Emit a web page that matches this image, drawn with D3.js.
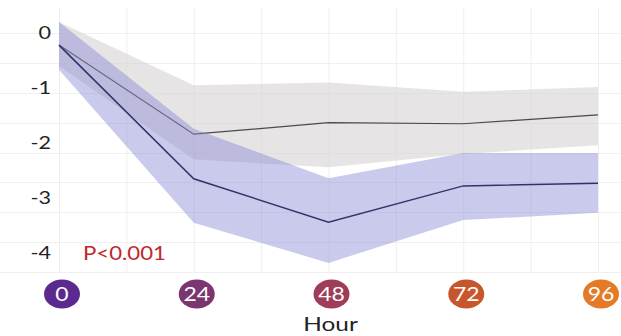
<!DOCTYPE html>
<html>
<head>
<meta charset="utf-8">
<script src="https://cdn.jsdelivr.net/npm/d3@7"></script>
<style>
  html, body { margin: 0; padding: 0; background: #fff; }
  svg { display: block; font-family: Lato, "Open Sans", sans-serif; }
</style>
</head>
<body>
<svg id="chart" width="621" height="336"></svg>
<script>
// Time points (hours) and tick labels
const hours = [0, 24, 48, 72, 96];
const yTicks = [0, -1, -2, -3, -4];
const hourColors = ["#5c2a8f", "#7b3670", "#9e3d57", "#c8562d", "#e47a27"];

// Control group: mean and band
const grayMean  = [-0.22, -1.84, -1.63, -1.65, -1.49];
const grayUpper = [0.2, -0.95, -0.9, -1.07, -0.98];
const grayLower = [-0.6, -2.3, -2.44, -2.2, -2.04];

// Treatment group: mean and band
const blueMean  = [-0.22, -2.65, -3.44, -2.78, -2.73];
const blueUpper = [0.2, -1.74, -2.64, -2.18, -2.18];
const blueLower = [-0.67, -3.45, -4.18, -3.4, -3.27];

const pLabel = "P<0.001";
const xTitle = "Hour";

const svg = d3.select("#chart");

const x = d3.scaleLinear().domain([0, 96]).range([59, 598]);
const y = d3.scaleLinear().domain([0, -4]).range([33, 253]);

// Horizontally widened text: anchor point (px, py), stretch factor sx
function wideText(sel, px, py, sx) {
  return sel.attr("x", 0).attr("y", 0)
    .attr("transform", `translate(${px},${py}) scale(${sx},1)`);
}

// Background grid (decorative, evenly spaced)
const grid = svg.append("g").attr("stroke", "#efefef").attr("stroke-width", 1);
d3.range(0, 97, 12).forEach(h => {
  grid.append("line")
    .attr("x1", x(h) + 0.5).attr("x2", x(h) + 0.5)
    .attr("y1", 8).attr("y2", 272);
});
d3.range(9).forEach(i => {
  const yy = Math.round(33 + i * (272 - 33) / 8) + 0.5;
  grid.append("line")
    .attr("x1", 0).attr("x2", 621)
    .attr("y1", yy).attr("y2", yy);
});

// Y axis labels
svg.append("g").selectAll("text")
  .data(yTicks)
  .join("text")
  .each(function (d) { wideText(d3.select(this), 51, y(d), 1.2); })
  .attr("text-anchor", "end")
  .attr("dy", "0.36em")
  .attr("font-size", 18)
  .attr("fill", "#222")
  .text(d => d < 0 ? "-" + Math.abs(d) : d);

// Bands and lines
const area = (lo, hi) => d3.area()
  .x((d, i) => x(hours[i]))
  .y0((d, i) => y(lo[i]))
  .y1((d, i) => y(hi[i]));
const line = d3.line().x((d, i) => x(hours[i])).y(d => y(d));

svg.append("path")
  .datum(hours)
  .attr("d", area(grayLower, grayUpper))
  .attr("fill", "#d6d2d2")
  .attr("fill-opacity", 0.6);

svg.append("path")
  .datum(grayMean)
  .attr("d", line)
  .attr("fill", "none")
  .attr("stroke", "#4a4a4a")
  .attr("stroke-width", 1.2);

svg.append("path")
  .datum(hours)
  .attr("d", area(blueLower, blueUpper))
  .attr("fill", "#8a8ad4")
  .attr("fill-opacity", 0.45);

svg.append("path")
  .datum(blueMean)
  .attr("d", line)
  .attr("fill", "none")
  .attr("stroke", "#33336a")
  .attr("stroke-width", 1.5);

// Significance note
wideText(svg.append("text"), 83, 260, 1.17)
  .attr("font-size", 19)
  .attr("fill", "#c0282e")
  .text(pLabel);

// Hour badges
const badges = svg.append("g").selectAll("g")
  .data(hours)
  .join("g")
  .attr("transform", d => `translate(${x(d) + 3},294)`);
badges.append("ellipse")
  .attr("rx", 18).attr("ry", 14.5)
  .attr("fill", (d, i) => hourColors[i]);
badges.append("text")
  .attr("text-anchor", "middle")
  .attr("dy", "0.36em")
  .attr("font-size", 20)
  .attr("transform", "scale(1.15,1)")
  .attr("fill", "#fff")
  .text(d => d);

// X title
wideText(svg.append("text"), x(48) + 2, 331, 1.25)
  .attr("text-anchor", "middle")
  .attr("font-size", 19.5)
  .attr("fill", "#222")
  .text(xTitle);
</script>
</body>
</html>
